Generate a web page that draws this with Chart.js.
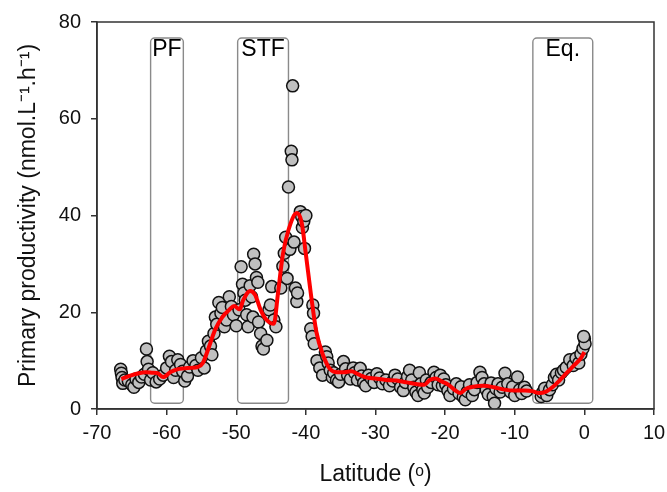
<!DOCTYPE html>
<html>
<head>
<meta charset="utf-8">
<script src="https://cdn.jsdelivr.net/npm/chart.js@4/dist/chart.umd.min.js"></script>
<style>
    html, body { margin: 0; padding: 0; background: #fff; }
    #wrap { width: 667px; height: 492px; position: relative; }
</style>
</head>
<body>
<div id="wrap"><canvas id="pp-canvas"></canvas></div>
<script>
// observed samples: latitude (deg) and primary productivity (nmol/L/h)
const obsLat = [
    -66.6, -66.5, -66.4, -66.3, -66.0, -65.5, -65.0, -64.7, -64.4, -64.0, -63.6, -63.2, -62.9, -62.8, -62.6, -62.3,
    -62.0, -61.5, -61.0, -60.5, -60.0, -59.6, -59.3, -59.0, -58.7, -58.4, -58.0, -57.7, -57.4, -57.0, -56.7, -56.2,
    -55.8, -55.5, -55.0, -54.6, -54.3, -54.0, -53.7, -53.5, -53.2, -53.0, -52.8, -52.5, -52.2, -52.0, -51.7, -51.4,
    -51.0, -50.7, -50.4, -50.0, -49.6, -49.3, -49.1, -48.9, -48.7, -48.5, -48.3, -48.0, -47.8, -47.6, -47.5, -47.3,
    -47.1, -46.9, -46.8, -46.5, -46.3, -46.1, -45.6, -45.3, -45.1, -44.9, -44.6, -44.3, -43.6, -43.3, -43.1, -42.9,
    -42.7, -42.5, -42.3, -42.1, -42.0, -41.9, -41.7, -41.5, -41.3, -41.2, -40.8, -40.6, -40.5, -40.3, -40.2, -40.0,
    -39.0, -38.9, -39.3, -39.1, -38.8, -38.4, -38.0, -37.6, -37.2, -37.0, -36.8, -36.5, -36.2, -36.0, -35.6, -35.3,
    -35.0, -34.6, -34.3, -34.0, -33.6, -33.2, -33.0, -32.6, -32.2, -32.0, -31.7, -31.4, -31.0, -30.6, -30.2, -29.8,
    -29.4, -29.0, -28.5, -28.0, -27.5, -27.2, -26.8, -26.4, -26.0, -25.7, -25.4, -25.1, -24.8, -24.5, -24.2, -23.9,
    -23.7, -23.5, -23.2, -23.0, -22.7, -22.5, -22.0, -21.6, -21.3, -21.0, -20.7, -20.4, -20.2, -19.9, -19.6, -19.3,
    -18.8, -18.4, -18.0, -17.7, -17.4, -17.1, -16.8, -16.5, -16.1, -15.8, -15.4, -15.0, -14.7, -14.4, -14.1, -13.8,
    -13.4, -13.1, -12.9, -12.7, -12.4, -12.1, -11.8, -11.4, -11.0, -10.6, -10.3, -10.0, -9.6, -9.3, -9.0, -8.6,
    -8.3, -6.2, -6.0, -5.7, -5.4, -5.0, -4.6, -4.3, -4.0, -3.7, -3.3, -3.0, -2.6, -2.1, -1.6, -1.2,
    -0.8, -0.5, -0.2, 0.0, 0.1, -0.1
];
const obsPP = [
    8.2, 7.4, 6.5, 5.3, 6.0, 5.8, 5.0, 4.5, 6.2, 5.5, 6.6, 7.2, 12.4, 9.8, 8.2, 6.0,
    7.5, 5.6, 6.2, 7.0, 8.5, 10.9, 9.8, 6.5, 8.0, 10.2, 9.2, 7.8, 5.8, 6.8, 8.7, 10.0,
    9.0, 8.0, 10.6, 8.5, 12.0, 14.0, 13.0, 11.2, 15.6, 19.0, 17.5, 22.0, 19.8, 21.0, 17.0, 18.4,
    23.2, 21.2, 19.5, 17.2, 20.5, 29.4, 25.8, 24.0, 22.5, 19.5, 17.0, 25.5, 23.2, 19.0, 32.0, 30.0,
    27.2, 26.2, 18.0, 15.6, 13.0, 12.4, 14.2, 20.5, 21.5, 25.3, 18.4, 17.0, 25.0, 29.5, 32.2, 35.5,
    27.0, 45.9, 33.0, 53.3, 51.5, 66.8, 34.5, 25.0, 22.2, 24.0, 40.8, 39.8, 37.5, 38.8, 33.2, 40.0,
    21.5, 19.8, 16.6, 15.0, 13.5, 10.0, 8.5, 7.0, 11.8, 10.8, 9.5, 8.0, 6.5, 7.5, 6.0, 5.6,
    7.2, 9.8, 8.3, 7.0, 6.2, 8.5, 7.5, 6.0, 8.4, 6.8, 5.4, 4.8, 7.0, 6.3, 5.5, 7.3,
    6.4, 5.2, 6.0, 4.8, 5.8, 7.0, 6.2, 4.5, 3.8, 5.5, 6.7, 8.0, 6.0, 4.5, 3.5, 2.8,
    7.5, 5.2, 4.0, 3.3, 6.0, 4.5, 5.5, 7.6, 6.5, 5.0, 7.0, 4.8, 6.2, 5.0, 3.8, 2.8,
    4.2, 5.2, 3.2, 4.6, 2.5, 1.9, 3.6, 5.0, 2.8, 4.0, 5.5, 7.6, 6.5, 5.2, 4.0, 3.0,
    5.4, 2.6, 1.2, 4.2, 5.2, 3.5, 4.5, 7.4, 5.2, 3.5, 4.6, 2.8, 6.6, 4.0, 3.2, 4.5,
    3.7, 2.6, 3.4, 4.3, 2.8, 4.0, 5.0, 6.5, 7.2, 6.0, 7.5, 8.0, 8.6, 10.2, 9.0, 10.5,
    9.5, 11.3, 12.5, 14.5, 13.5, 15.0
];

// smoothed fit (red line)
const fitLat = [
    -66.5, -65, -64, -63, -62, -61.3, -60.5, -59.5, -58.5, -57.5, -56.5, -55.5, -54.8, -54, -53, -52,
    -51, -50.3, -49.5, -49, -48, -47.3, -46.5, -45.7, -44.6, -44, -43.3, -42.5, -41.3, -40.6, -40, -39.3,
    -38.5, -37.5, -36.5, -35.5, -34.5, -33.5, -32.5, -31.5, -30, -28.5, -27, -25.5, -24, -23, -22.2, -21.4,
    -20.5, -19.5, -18.5, -17.8, -17, -16, -14.5, -13, -11.5, -10, -8.5, -7.5, -6.5, -5.5, -4.5, -3.5,
    -2.5, -1.5, -0.5, 0
];
const fitPP = [
    6.2, 7.0, 7.4, 7.6, 7.5, 7.4, 6.6, 7.6, 8.2, 8.4, 8.5, 8.7, 9.5, 12.5, 16.5, 19.0,
    20.5, 21.3, 20.6, 22.5, 24.4, 23.6, 20.5, 18.5, 17.6, 24.0, 32.0, 37.0, 40.5, 38.5, 32.0, 24.0,
    16.0, 11.0, 8.2, 7.6, 7.6, 7.8, 7.2, 6.6, 6.3, 6.0, 5.9, 5.5, 5.1, 5.0, 6.0, 6.3,
    5.7, 5.0, 3.8, 3.3, 4.2, 4.6, 4.8, 4.5, 4.0, 3.8, 3.8, 3.7, 3.3, 3.6, 4.6, 6.0,
    7.5, 9.0, 10.5, 11.8
];

// frontal zones
const zoneLabels = ['PF', 'STF', 'Eq.'];
const zoneStart = [-62.3, -49.8, -7.4];
const zoneEnd = [-57.6, -42.5, 1.2];
const zoneBottom = 1.2;
const zoneTop = 76.7;

const xTicks = [-70, -60, -50, -40, -30, -20, -10, 0, 10];
const yTicks = [0, 20, 40, 60, 80];

const fontFamily = '"Liberation Sans", Arial, sans-serif';

const framePlugin = {
    id: 'frame',
    beforeDatasetsDraw(chart) {
        const { ctx, scales: { x, y } } = chart;
        ctx.save();
        ctx.strokeStyle = '#8a8a8a';
        ctx.lineWidth = 1.4;
        ctx.fillStyle = '#000';
        ctx.font = '23px ' + fontFamily;
        ctx.textAlign = 'center';
        ctx.textBaseline = 'middle';
        zoneLabels.forEach((label, i) => {
            const x0 = x.getPixelForValue(zoneStart[i]);
            const x1 = x.getPixelForValue(zoneEnd[i]);
            const y0 = y.getPixelForValue(zoneTop);
            const y1 = y.getPixelForValue(zoneBottom);
            ctx.beginPath();
            ctx.roundRect(x0, y0, x1 - x0, y1 - y0, 4);
            ctx.stroke();
            ctx.fillText(label, (x0 + x1) / 2, y0 + 12);
        });
        ctx.restore();
    },
    afterDraw(chart) {
        const { ctx, chartArea: a } = chart;
        ctx.save();
        ctx.strokeStyle = '#333';
        ctx.lineWidth = 1.5;
        ctx.strokeRect(a.left, a.top, a.right - a.left, a.bottom - a.top);
        ctx.restore();
    }
};

new Chart(document.getElementById('pp-canvas'), {
    plugins: [framePlugin],
    data: {
        datasets: [
            {
                type: 'line',
                label: 'fit',
                data: fitLat.map((v, i) => ({ x: v, y: fitPP[i] })),
                borderColor: '#ff0000',
                borderWidth: 4,
                pointRadius: 0,
                cubicInterpolationMode: 'monotone',
                order: 0,
            },
            {
                type: 'scatter',
                label: 'samples',
                data: obsLat.map((v, i) => ({ x: v, y: obsPP[i] })),
                backgroundColor: '#c0c0c0',
                borderColor: '#111',
                borderWidth: 1.5,
                pointRadius: 6,
                order: 1,
            },
        ]
    },
    options: {
        responsive: true,
        maintainAspectRatio: false,
        animation: false,
        layout: { padding: { left: 0, top: 20, right: 13, bottom: 0 } },
        plugins: {
            legend: { display: false },
            tooltip: { enabled: false },
        },
        scales: {
            x: {
                type: 'linear',
                min: -70,
                max: 10,
                afterBuildTicks: (scale) => { scale.ticks = xTicks.map(v => ({ value: v })); },
                afterFit: (scale) => {
                    scale.height = 83;
                    scale.paddingRight = 0;
                    scale.paddingLeft = 0;
                },
                grid: { drawOnChartArea: false, tickLength: 6, color: '#333', lineWidth: 1.5 },
                border: { color: '#333', width: 1.5 },
                ticks: { color: '#111', font: { family: fontFamily, size: 20 }, padding: 6, maxRotation: 0 },
                title: {
                    display: true,
                    text: 'Latitude (ᵒ)',
                    color: '#111',
                    font: { family: fontFamily, size: 23 },
                    padding: { top: 0, bottom: 4 },
                },
            },
            y: {
                type: 'linear',
                min: 0,
                max: 80,
                afterBuildTicks: (scale) => { scale.ticks = yTicks.map(v => ({ value: v })); },
                afterFit: (scale) => { scale.width = 97; },
                grid: { drawOnChartArea: false, tickLength: 6, color: '#333', lineWidth: 1.5 },
                border: { color: '#333', width: 1.5 },
                ticks: { color: '#111', font: { family: fontFamily, size: 20 }, padding: 10 },
                title: {
                    display: true,
                    text: 'Primary productivity (nmol.L⁻¹.h⁻¹)',
                    color: '#111',
                    font: { family: fontFamily, size: 23 },
                    padding: { top: 15, bottom: 0 },
                },
            },
        }
    }
});
</script>
</body>
</html>
